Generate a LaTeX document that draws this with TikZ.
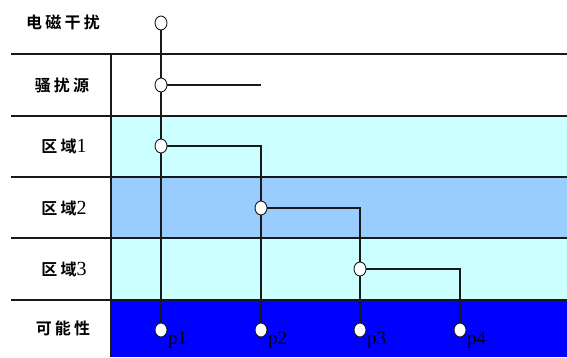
\documentclass[tikz,border=0pt]{standalone}
\usepackage{fontspec}
\setmainfont{Liberation Serif}
\newfontfamily\cjk[BoldFont={Noto Sans CJK SC Bold},BoldFeatures={LetterSpace=20}]{Noto Sans CJK SC}
\usetikzlibrary{shapes.geometric}
\definecolor{lcyan}{HTML}{CCFFFF}
\definecolor{mblue}{HTML}{99CCFF}
\definecolor{dblue}{HTML}{0000FF}
\begin{document}
\begin{tikzpicture}[x=1pt,y=-1pt,
  rowlabel/.style={font=\cjk\bfseries\fontsize{16}{18}\selectfont, anchor=center},
  grid/.style={line width=1.5pt, black!90},
  wire/.style={line width=1.5pt, black!90},
  dot/.style={ellipse, draw=black!90, line width=0.9pt, fill=white, minimum width=12pt, minimum height=14pt, inner sep=0pt},
  plab/.style={font=\fontsize{19}{21}\selectfont, anchor=base west, inner sep=0pt}]
\useasboundingbox (0,0) rectangle (567,357);
% bands
\fill[lcyan] (111,116) rectangle (567,177);
\fill[mblue] (111,177) rectangle (567,238);
\fill[lcyan] (111,238) rectangle (567,300);
\fill[dblue] (111,300) rectangle (567,357);
% grid lines
\foreach \yy in {54,116,177,238,300} \draw[grid] (11,\yy) -- (567,\yy);
\draw[grid] (111,54) -- (111,357);
% row labels
\node[rowlabel] (l0) at (63,22) {电磁干扰};
\node[rowlabel] (l1) at (62,85) {骚扰源};
\node[rowlabel] (l2) at (64,146) {区域{\rmfamily\mdseries\fontsize{20}{20}\selectfont 1}};
\node[rowlabel] (l3) at (64,208) {区域{\rmfamily\mdseries\fontsize{20}{20}\selectfont 2}};
\node[rowlabel] (l4) at (64,269) {区域{\rmfamily\mdseries\fontsize{20}{20}\selectfont 3}};
\node[rowlabel] (l5) at (63,328) {可能性};
% coordinates
\coordinate (s1) at (261,85);
\coordinate (k1) at (261,146);
\coordinate (k2) at (360,208);
\coordinate (k3) at (460,269);
% wires
\draw[wire] (161,23) -- (161,330);
\draw[wire] (161,85) -- (s1);
\draw[wire] (161,146) -- (k1) -- (261,330);
\draw[wire] (261,208) -- (k2) -- (360,330);
\draw[wire] (360,269) -- (k3) -- (460,330);
% dots
\node[dot] (t) at (161,23) {};
\node[dot] (a) at (161,85) {};
\node[dot] (b) at (161,146) {};
\node[dot] (c) at (261,208) {};
\node[dot] (d) at (360,269) {};
\node[dot] (p1) at (161,330) {};
\node[dot] (p2) at (261,330) {};
\node[dot] (p3) at (360,330) {};
\node[dot] (p4) at (460,330) {};
\node[plab] at (168,344) {p1};
\node[plab] at (268,344) {p2};
\node[plab] at (367,344) {p3};
\node[plab] at (467,344) {p4};
\end{tikzpicture}
\end{document}
